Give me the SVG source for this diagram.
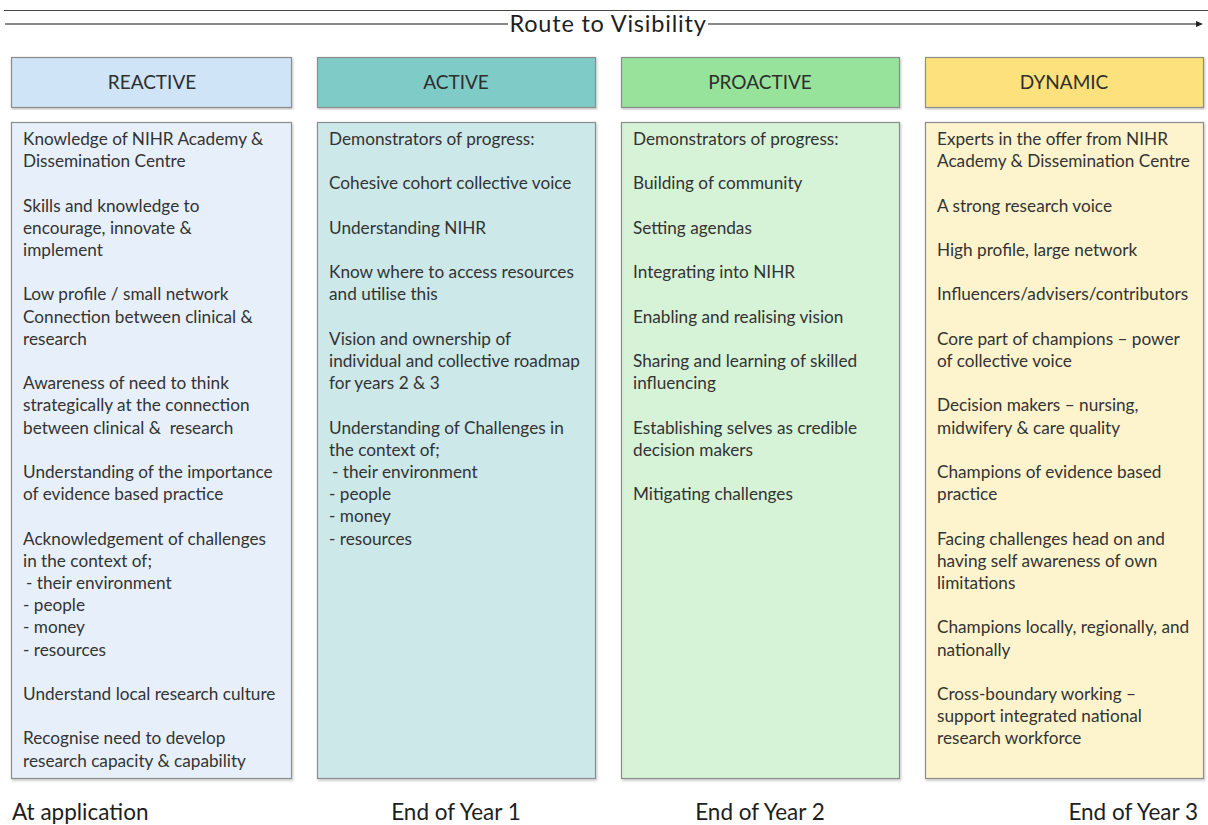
<svg xmlns="http://www.w3.org/2000/svg" width="1208" height="825" viewBox="0 0 1208 825">
  <defs>
    <marker id="arrowHead" markerWidth="8" markerHeight="8" refX="5" refY="4" orient="auto" markerUnits="userSpaceOnUse">
      <path d="M0,1 L7,4 L0,7 Z" fill="#222"/>
    </marker>
    <filter id="shadow" x="-5%" y="-5%" width="110%" height="110%">
      <feDropShadow dx="1" dy="1.5" stdDeviation="1" flood-color="#000" flood-opacity="0.25"/>
    </filter>
  </defs>
  <style>
    text { font-family: Lato, "Liberation Sans", sans-serif; fill: #333333; }
    .title { font-size: 23.5px; letter-spacing: 0.8px; fill: #1e1e1e; }
    .head { font-size: 19px; text-anchor: middle; fill: #2e2e2e; }
    .body { font-size: 17.2px; }
    .cap { font-size: 22.5px; fill: #1e1e1e; }
    .box { stroke: #8c8c8c; stroke-width: 1.2; filter: url(#shadow); }
    .reactive-h { fill: #cfe4f7; }
    .reactive-b { fill: #e7f0fa; }
    .active-h { fill: #7fcbc7; }
    .active-b { fill: #cce8e9; }
    .proactive-h { fill: #97e39b; }
    .proactive-b { fill: #d6f2d7; }
    .dynamic-h { fill: #fde17c; }
    .dynamic-b { fill: #fdf3cd; }
  </style>

  <rect width="1208" height="825" fill="#ffffff"/>

  <!-- timeline rule and arrow -->
  <g id="connectors">
    <line x1="4" y1="10.5" x2="1208" y2="10.5" stroke="#444" stroke-width="1.2"/>
    <line x1="5" y1="24" x2="508" y2="24" stroke="#888" stroke-width="2"/>
    <line x1="708" y1="24" x2="1201" y2="24" stroke="#888" stroke-width="2" marker-end="url(#arrowHead)"/>
  </g>
  <text class="title" x="608" y="32" text-anchor="middle">Route to Visibility</text>

  <!-- REACTIVE column -->
  <g id="reactive">
    <rect class="box reactive-h" x="11.5" y="57.5" width="280" height="50"/>
    <text class="head" x="152" y="89">REACTIVE</text>
    <rect class="box reactive-b" x="11.5" y="122.5" width="280" height="656"/>
    <text class="body" x="23" y="145">
      <tspan x="23">Knowledge of NIHR Academy &amp;</tspan>
      <tspan x="23" dy="22.2">Dissemination Centre</tspan>
      <tspan x="23" dy="44.4">Skills and knowledge to</tspan>
      <tspan x="23" dy="22.2">encourage, innovate &amp;</tspan>
      <tspan x="23" dy="22.2">implement</tspan>
      <tspan x="23" dy="44.4">Low profile / small network</tspan>
      <tspan x="23" dy="22.2">Connection between clinical &amp;</tspan>
      <tspan x="23" dy="22.2">research</tspan>
      <tspan x="23" dy="44.4">Awareness of need to think</tspan>
      <tspan x="23" dy="22.2">strategically at the connection</tspan>
      <tspan x="23" dy="22.2" xml:space="preserve">between clinical &amp;  research</tspan>
      <tspan x="23" dy="44.4">Understanding of the importance</tspan>
      <tspan x="23" dy="22.2">of evidence based practice</tspan>
      <tspan x="23" dy="44.4">Acknowledgement of challenges</tspan>
      <tspan x="23" dy="22.2">in the context of;</tspan>
      <tspan x="26" dy="22.2">- their environment</tspan>
      <tspan x="23" dy="22.2">- people</tspan>
      <tspan x="23" dy="22.2">- money</tspan>
      <tspan x="23" dy="22.2">- resources</tspan>
      <tspan x="23" dy="44.4">Understand local research culture</tspan>
      <tspan x="23" dy="44.4">Recognise need to develop</tspan>
      <tspan x="23" dy="22.2">research capacity &amp; capability</tspan>
    </text>
    <text class="cap" x="12" y="820">At application</text>
  </g>

  <!-- ACTIVE column -->
  <g id="active">
    <rect class="box active-h" x="317.5" y="57.5" width="278" height="50"/>
    <text class="head" x="456" y="89">ACTIVE</text>
    <rect class="box active-b" x="317.5" y="122.5" width="278" height="656"/>
    <text class="body" x="329" y="145">
      <tspan x="329">Demonstrators of progress:</tspan>
      <tspan x="329" dy="44.4">Cohesive cohort collective voice</tspan>
      <tspan x="329" dy="44.4">Understanding NIHR</tspan>
      <tspan x="329" dy="44.4">Know where to access resources</tspan>
      <tspan x="329" dy="22.2">and utilise this</tspan>
      <tspan x="329" dy="44.4">Vision and ownership of</tspan>
      <tspan x="329" dy="22.2">individual and collective roadmap</tspan>
      <tspan x="329" dy="22.2">for years 2 &amp; 3</tspan>
      <tspan x="329" dy="44.4">Understanding of Challenges in</tspan>
      <tspan x="329" dy="22.2">the context of;</tspan>
      <tspan x="332" dy="22.2">- their environment</tspan>
      <tspan x="329" dy="22.2">- people</tspan>
      <tspan x="329" dy="22.2">- money</tspan>
      <tspan x="329" dy="22.2">- resources</tspan>
    </text>
    <text class="cap" x="456" y="820" text-anchor="middle">End of Year 1</text>
  </g>

  <!-- PROACTIVE column -->
  <g id="proactive">
    <rect class="box proactive-h" x="621.5" y="57.5" width="278" height="50"/>
    <text class="head" x="760" y="89">PROACTIVE</text>
    <rect class="box proactive-b" x="621.5" y="122.5" width="278" height="656"/>
    <text class="body" x="633" y="145">
      <tspan x="633">Demonstrators of progress:</tspan>
      <tspan x="633" dy="44.4">Building of community</tspan>
      <tspan x="633" dy="44.4">Setting agendas</tspan>
      <tspan x="633" dy="44.4">Integrating into NIHR</tspan>
      <tspan x="633" dy="44.4">Enabling and realising vision</tspan>
      <tspan x="633" dy="44.4">Sharing and learning of skilled</tspan>
      <tspan x="633" dy="22.2">influencing</tspan>
      <tspan x="633" dy="44.4">Establishing selves as credible</tspan>
      <tspan x="633" dy="22.2">decision makers</tspan>
      <tspan x="633" dy="44.4">Mitigating challenges</tspan>
    </text>
    <text class="cap" x="760" y="820" text-anchor="middle">End of Year 2</text>
  </g>

  <!-- DYNAMIC column -->
  <g id="dynamic">
    <rect class="box dynamic-h" x="925.5" y="57.5" width="278" height="50"/>
    <text class="head" x="1064" y="89">DYNAMIC</text>
    <rect class="box dynamic-b" x="925.5" y="122.5" width="278" height="656"/>
    <text class="body" x="937" y="145">
      <tspan x="937">Experts in the offer from NIHR</tspan>
      <tspan x="937" dy="22.2">Academy &amp; Dissemination Centre</tspan>
      <tspan x="937" dy="44.4">A strong research voice</tspan>
      <tspan x="937" dy="44.4">High profile, large network</tspan>
      <tspan x="937" dy="44.4">Influencers/advisers/contributors</tspan>
      <tspan x="937" dy="44.4">Core part of champions – power</tspan>
      <tspan x="937" dy="22.2">of collective voice</tspan>
      <tspan x="937" dy="44.4">Decision makers – nursing,</tspan>
      <tspan x="937" dy="22.2">midwifery &amp; care quality</tspan>
      <tspan x="937" dy="44.4">Champions of evidence based</tspan>
      <tspan x="937" dy="22.2">practice</tspan>
      <tspan x="937" dy="44.4">Facing challenges head on and</tspan>
      <tspan x="937" dy="22.2">having self awareness of own</tspan>
      <tspan x="937" dy="22.2">limitations</tspan>
      <tspan x="937" dy="44.4">Champions locally, regionally, and</tspan>
      <tspan x="937" dy="22.2">nationally</tspan>
      <tspan x="937" dy="44.4">Cross-boundary working –</tspan>
      <tspan x="937" dy="22.2">support integrated national</tspan>
      <tspan x="937" dy="22.2">research workforce</tspan>
    </text>
    <text class="cap" x="1198" y="820" text-anchor="end">End of Year 3</text>
  </g>
</svg>
